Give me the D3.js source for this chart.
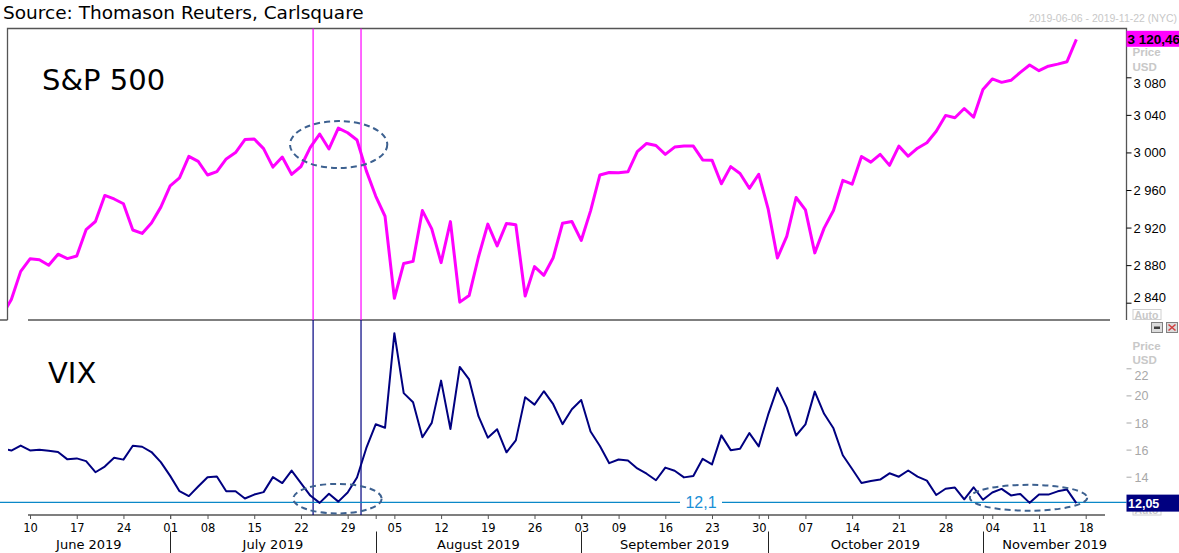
<!DOCTYPE html>
<html><head><meta charset="utf-8">
<script src="https://cdn.jsdelivr.net/npm/d3@7"></script>
<style>
html,body{margin:0;padding:0;background:#fff;overflow:hidden}
svg{display:block}
</style></head><body>
<svg id="chart" width="1179" height="553"></svg>
<script>
// ---------- data ----------
const holidays = ["2019-07-04", "2019-09-02"];
const firstDay = "2019-06-05";
const lastAxisDay = "2019-11-18";

// S&P 500 daily close, 2019-06-05 .. 2019-11-15 (trading days)
const sp500 = [
  2826.15, 2843.49, 2873.34, 2886.73, 2885.72, 2879.84, 2891.64, 2886.98, 2889.67, 2917.75,
  2926.46, 2954.18, 2950.46, 2945.35, 2917.38, 2913.78, 2924.92, 2941.76, 2964.33, 2973.01,
  2995.82, 2990.41, 2975.95, 2979.63, 2993.07, 2999.91, 3013.77, 3014.30, 3004.04, 2984.42,
  2995.11, 2976.61, 2985.03, 3005.47, 3019.56, 3003.67, 3025.86, 3020.97, 3013.18, 2980.38,
  2953.56, 2932.05, 2844.74, 2881.77, 2883.98, 2938.09, 2918.65, 2882.70, 2926.32, 2840.60,
  2847.60, 2888.68, 2923.65, 2900.51, 2924.43, 2922.95, 2847.11, 2878.38, 2869.16, 2887.94,
  2924.58, 2926.46, 2906.27, 2937.78, 2976.00, 2978.71, 2978.43, 2979.39, 3000.93, 3009.57,
  3007.39, 2997.96, 3005.70, 3006.73, 3006.79, 2992.07, 2991.78, 2966.60, 2984.87, 2977.62,
  2961.79, 2976.74, 2940.25, 2887.61, 2910.63, 2952.01, 2938.79, 2893.06, 2919.40, 2938.13,
  2970.27, 2966.15, 2995.68, 2989.69, 2997.95, 2986.20, 3006.72, 2995.99, 3004.52, 3010.29,
  3022.55, 3039.42, 3036.89, 3046.77, 3037.56, 3066.91, 3078.27, 3074.62, 3076.78, 3085.18,
  3093.08, 3087.01, 3091.84, 3094.04, 3096.63, 3120.46
];

// VIX daily close, same days
const vix = [
  16.09, 15.93, 16.30, 15.94, 15.99, 15.91, 15.82, 15.28, 15.35, 15.15,
  14.33, 14.75, 15.40, 15.26, 16.28, 16.21, 15.82, 15.08, 14.06, 12.93,
  12.57, 13.28, 13.96, 14.02, 12.93, 12.93, 12.39, 12.68, 12.86, 13.97,
  13.53, 14.45, 13.53, 12.61, 12.07, 12.74, 12.16, 12.83, 13.94, 16.12,
  17.87, 17.61, 24.59, 20.17, 19.49, 16.91, 17.97, 21.09, 17.52, 22.10,
  21.18, 18.47, 16.88, 17.50, 15.80, 16.68, 19.87, 19.32, 20.31, 19.35,
  17.88, 18.98, 19.66, 17.33, 16.27, 15.00, 15.27, 15.20, 14.61, 14.22,
  13.74, 14.67, 14.44, 13.95, 14.05, 15.32, 14.91, 17.05, 15.96, 16.07,
  17.22, 16.24, 18.56, 20.56, 19.12, 17.04, 17.86, 20.28, 18.64, 17.57,
  15.58, 14.57, 13.54, 13.68, 13.79, 14.25, 14.00, 14.46, 14.01, 13.71,
  12.65, 13.11, 13.20, 12.33, 13.22, 12.30, 12.83, 13.10, 12.62, 12.73,
  12.07, 12.69, 12.68, 12.92, 13.05, 12.05
];

const dayTicks = [
  "2019-06-10","2019-06-17","2019-06-24","2019-07-01","2019-07-08","2019-07-15","2019-07-22",
  "2019-07-29","2019-08-05","2019-08-12","2019-08-19","2019-08-26","2019-09-03","2019-09-09",
  "2019-09-16","2019-09-23","2019-09-30","2019-10-07","2019-10-14","2019-10-21","2019-10-28",
  "2019-11-04","2019-11-11","2019-11-18"
];
const monthStarts = ["2019-07-01","2019-08-01","2019-09-03","2019-10-01","2019-11-01"];
const monthLabels = ["June 2019","July 2019","August 2019","September 2019","October 2019","November 2019"];
const spTicks = [2840, 2880, 2920, 2960, 3000, 3040, 3080];
const vixTicks = [14, 16, 18, 20, 22];
const vixRef = 12.1;
const markerDays = [33.3, 38.43];           // fractional trading-day positions of the two markers
const spEllipses = [{x0: 30.83, x1: 41.24, v0: 3033.4, v1: 2983.4}];
const vixEllipses = [
  {x0: 31.18, x1: 40.64, v0: 13.47, v1: 11.29},
  {x0: 103.6, x1: 116.16, v0: 13.40, v1: 11.49}
];
const sourceText = "Source: Thomason Reuters, Carlsquare";
const rangeText = "2019-06-06 - 2019-11-22 (NYC)";

// ---------- trading calendar ----------
const tradingDays = [];
{
  const fmt = d3.utcFormat("%Y-%m-%d");
  let d = new Date(firstDay + "T00:00:00Z");
  const end = new Date(lastAxisDay + "T00:00:00Z");
  while (d <= end) {
    const s = fmt(d), wd = d.getUTCDay();
    if (wd !== 0 && wd !== 6 && !holidays.includes(s)) tradingDays.push(s);
    d = new Date(d.getTime() + 86400000);
  }
}
const idx = s => tradingDays.indexOf(s);

// ---------- layout ----------
const W = 1179, H = 553;
const L = 7.5, R = 1126.5, TOP = 28.5, SEP = 320, AX = 515;
const svg = d3.select("#chart");
svg.append("rect").attr("width", W).attr("height", H).attr("fill", "#fff");

const x = d3.scaleLinear().domain([0, tradingDays.length - 1]).range([2, 1085.7]);
const ySP = d3.scaleLinear().domain([2840, 3080]).range([302.7, 77.3]);
const yV = d3.scaleLinear().domain([14, 22]).range([476.7, 368.3]);

const loc = d3.formatLocale({decimal: ",", thousands: " ", grouping: [3], currency: ["", ""]});
const fInt = loc.format(",");
const f2 = loc.format(",.2f");

const defs = svg.append("defs");
defs.append("clipPath").attr("id", "clipTop").append("rect")
  .attr("x", L + 0.5).attr("y", TOP + 0.5).attr("width", R - L - 1).attr("height", SEP - TOP - 0.5);
defs.append("clipPath").attr("id", "clipBot").append("rect")
  .attr("x", L + 0.5).attr("y", SEP).attr("width", R - L - 1).attr("height", AX - SEP);

// ---------- texts ----------
svg.append("text").attr("x", 3).attr("y", 18.5)
  .attr("font-family", "DejaVu Sans").attr("font-size", 18.5).attr("fill", "#000").text(sourceText);
svg.append("text").attr("x", 1177).attr("y", 22).attr("text-anchor", "end")
  .attr("font-family", "Liberation Sans").attr("font-size", 10.5).attr("fill", "#c8c8c8").text(rangeText);

// ---------- frames ----------
const frame = svg.append("g").attr("fill", "none").attr("stroke", "#555").attr("stroke-width", 1.3);
frame.append("path").attr("d", `M${L},${SEP}V${TOP}H${R}V${SEP}`);
frame.append("path").attr("d", `M0,${SEP}H${L}M28,${SEP}H1110`);
frame.append("path").attr("d", `M28,${AX}H1105`).attr("stroke-width", 1.5);

// ---------- marker lines ----------
svg.append("g").selectAll("line").data(markerDays).join("line")
  .attr("x1", d => x(d)).attr("x2", d => x(d)).attr("y1", TOP).attr("y2", SEP)
  .attr("stroke", "#ff00ff").attr("stroke-width", 1.2);
svg.append("g").selectAll("line").data(markerDays).join("line")
  .attr("x1", d => x(d)).attr("x2", d => x(d)).attr("y1", SEP).attr("y2", AX)
  .attr("stroke", "#000080").attr("stroke-width", 1.2);

svg.append("text").attr("x", 42).attr("y", 90)
  .attr("font-family", "DejaVu Sans").attr("font-size", 29).attr("fill", "#000").text("S&P 500");
svg.append("text").attr("x", 48).attr("y", 383)
  .attr("font-family", "DejaVu Sans").attr("font-size", 29).attr("fill", "#000").text("VIX");

// ---------- reference line 12.1 ----------
const yRef = yV(vixRef);
svg.append("path").attr("d", `M0,${yRef}H680M722,${yRef}H${R}`)
  .attr("stroke", "#0a88c8").attr("stroke-width", 1.3).attr("fill", "none");
svg.append("text").attr("x", 701).attr("y", yRef + 6).attr("text-anchor", "middle")
  .attr("font-family", "Liberation Sans").attr("font-size", 16).attr("fill", "#1a8fd6")
  .text(loc.format(".1f")(vixRef));

// ---------- series ----------
const lineSP = d3.line().x((d, i) => x(i)).y(d => ySP(d));
const lineV = d3.line().x((d, i) => x(i)).y(d => yV(d));
svg.append("path").datum(sp500).attr("clip-path", "url(#clipTop)")
  .attr("d", lineSP).attr("fill", "none").attr("stroke", "#ff00ff")
  .attr("stroke-width", 3).attr("stroke-linejoin", "round");
svg.append("path").datum(vix).attr("clip-path", "url(#clipBot)")
  .attr("d", lineV).attr("fill", "none").attr("stroke", "#000080")
  .attr("stroke-width", 2).attr("stroke-linejoin", "round");

// ---------- ellipses ----------
const ell = svg.append("g").attr("fill", "none").attr("stroke", "#3d6190")
  .attr("stroke-width", 2).attr("stroke-dasharray", "6,4");
ell.selectAll("ellipse.sp").data(spEllipses).join("ellipse")
  .attr("cx", d => (x(d.x0) + x(d.x1)) / 2).attr("cy", d => (ySP(d.v0) + ySP(d.v1)) / 2)
  .attr("rx", d => (x(d.x1) - x(d.x0)) / 2).attr("ry", d => (ySP(d.v1) - ySP(d.v0)) / 2);
ell.selectAll("ellipse.v").data(vixEllipses).join("ellipse")
  .attr("cx", d => (x(d.x0) + x(d.x1)) / 2).attr("cy", d => (yV(d.v0) + yV(d.v1)) / 2)
  .attr("rx", d => (x(d.x1) - x(d.x0)) / 2).attr("ry", d => (yV(d.v1) - yV(d.v0)) / 2);

// ---------- right axes ----------
const axSP = svg.append("g").attr("transform", `translate(${R},0)`)
  .call(d3.axisRight(ySP).tickValues(spTicks).tickSize(5).tickPadding(2).tickFormat(fInt));
axSP.select(".domain").remove();
axSP.selectAll(".tick line").attr("stroke", "#000");
axSP.selectAll(".tick text").attr("font-family", "Liberation Sans").attr("font-size", 13)
  .attr("fill", "#000").attr("dy", null)
  .attr("y", d => Math.min(297.3, Math.max(82.7, ySP(d))) - ySP(d) + 4.5);

const axV = svg.append("g").attr("transform", `translate(${R},0)`)
  .call(d3.axisRight(yV).tickValues(vixTicks).tickSize(5).tickPadding(3).tickFormat(d3.format("d")));
axV.select(".domain").remove();
axV.selectAll(".tick line").attr("stroke", "#a8a8a8");
axV.selectAll(".tick text").attr("font-family", "Liberation Sans").attr("font-size", 12.5)
  .attr("fill", "#a8a8a8").attr("dy", null)
  .attr("y", d => Math.max(375, yV(d)) - yV(d) + 4.5);

// labels Price/USD/Auto
const grey = "#c8c8c8";
function small(t, xx, yy) {
  svg.append("text").attr("x", xx).attr("y", yy).attr("font-family", "Liberation Sans")
    .attr("font-weight", "bold").attr("font-size", 11.5).attr("fill", grey).text(t);
}
small("Price", 1132.5, 56); small("USD", 1132.5, 71);
small("Price", 1132.5, 350); small("USD", 1132.5, 364);
function autoBox(yy) {
  svg.append("rect").attr("x", 1133).attr("y", yy).attr("width", 28).attr("height", 10)
    .attr("fill", "#fff").attr("stroke", "#d0d0d0").attr("stroke-width", 1);
  svg.append("text").attr("x", 1134.5).attr("y", yy + 9).attr("font-family", "Liberation Sans")
    .attr("font-weight", "bold").attr("font-size", 10.5).attr("fill", grey).text("Auto");
}
autoBox(309.5);
autoBox(505);

// window icons
svg.append("rect").attr("x", 1151.5).attr("y", 322.5).attr("width", 11).attr("height", 10)
  .attr("fill", "#dcdcdc").attr("stroke", "#808080");
svg.append("rect").attr("x", 1154).attr("y", 326.5).attr("width", 6).attr("height", 2.5).attr("fill", "#404040");
svg.append("rect").attr("x", 1166.5).attr("y", 322.5).attr("width", 11).attr("height", 10)
  .attr("fill", "#dcdcdc").attr("stroke", "#808080");
svg.append("path").attr("d", "M1168.5,324.5L1175.5,330.5M1175.5,324.5L1168.5,330.5")
  .attr("stroke", "#d04040").attr("stroke-width", 1.6);

// value boxes
const lastSP = sp500[sp500.length - 1], lastV = vix[vix.length - 1];
svg.append("rect").attr("x", R).attr("y", ySP(lastSP) - 8.5).attr("width", W - R).attr("height", 16)
  .attr("fill", "#ff00ff");
svg.append("text").attr("x", R + 1).attr("y", ySP(lastSP) + 4.5)
  .attr("font-family", "Liberation Sans").attr("font-weight", "bold").attr("font-size", 13.5)
  .attr("fill", "#000").text(f2(lastSP));
svg.append("rect").attr("x", R).attr("y", yV(lastV) - 8.5).attr("width", W - R).attr("height", 17)
  .attr("fill", "#000080");
svg.append("text").attr("x", R + 1.5).attr("y", yV(lastV) + 4.5)
  .attr("font-family", "Liberation Sans").attr("font-weight", "bold").attr("font-size", 12.5)
  .attr("fill", "#fff").text(f2(lastV));

// ---------- bottom axis ----------
const dayIdx = dayTicks.map(idx);
const axX = svg.append("g").attr("transform", `translate(0,${AX})`)
  .call(d3.axisBottom(x).tickValues(dayIdx).tickSize(4).tickPadding(3)
    .tickFormat(i => tradingDays[i].slice(8)));
axX.select(".domain").remove();
axX.selectAll(".tick line").attr("stroke", "#555");
axX.selectAll(".tick text").attr("font-family", "DejaVu Sans").attr("font-size", 11.5)
  .attr("fill", "#000").attr("dy", null).attr("y", 17);

const monthIdx = monthStarts.map(idx);
const axM = svg.append("g").attr("transform", `translate(0,${AX})`)
  .call(d3.axisBottom(x).tickValues(monthIdx).tickSize(4).tickFormat(""));
axM.select(".domain").remove();
axM.selectAll(".tick line").attr("stroke", "#555");

svg.append("g").selectAll("line").data(monthIdx).join("line")
  .attr("x1", d => Math.round(x(d)) + 0.5).attr("x2", d => Math.round(x(d)) + 0.5)
  .attr("y1", 531.5).attr("y2", H).attr("stroke", "#222").attr("stroke-width", 1);

const bounds = [L].concat(monthIdx.map(x), [R]);
svg.append("g").selectAll("text").data(monthLabels).join("text")
  .attr("x", (d, i) => (bounds[i] + bounds[i + 1]) / 2).attr("y", 549)
  .attr("text-anchor", "middle").attr("font-family", "DejaVu Sans").attr("font-size", 13)
  .attr("fill", "#000").text(d => d);
</script>
</body></html>
